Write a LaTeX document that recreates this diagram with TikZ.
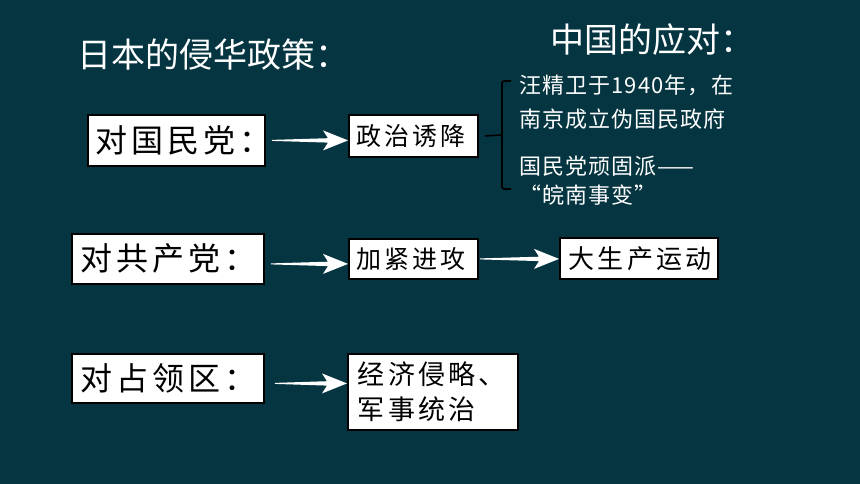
\documentclass[tikz,border=0pt]{standalone}
\usepackage{fontspec}
\setmainfont{Noto Sans CJK SC}
\newfontfamily\cjk{Noto Sans CJK SC}
\newfontfamily\cjkls[LetterSpace=12]{Noto Sans CJK SC}
\newfontfamily\cjkws[LetterSpace=5]{Noto Sans CJK SC}
\usetikzlibrary{calc}
\definecolor{bg}{RGB}{4,53,64}
\begin{document}
\begin{tikzpicture}[x=1pt,y=-1pt,
  box/.style={draw=black, line width=1.8pt, fill=white, text=black,
    anchor=north west, inner ysep=0pt, inner xsep=8pt, align=left},
  bigtxt/.style={font=\cjkls\fontsize{32}{36}\selectfont},
  midtxt/.style={font=\cjkls\fontsize{25}{35}\selectfont},
  wtxt/.style={text=white, anchor=north west, inner sep=0pt, align=left,
    font=\cjkws\fontsize{22}{34}\selectfont},
  ttl/.style={text=white, anchor=west, inner sep=0pt,
    font=\cjk\fontsize{34}{40}\selectfont},
  taper/.style={to path={let \p1=(\tikztostart), \p2=(\tikztotarget) in
    (\x1,\y1+0.5pt) -- (\x2-20pt,\y1+2.2pt) -- (\x2-25pt,\y1+10pt) -- (\x2,\y1)
    -- (\x2-25pt,\y1-10pt) -- (\x2-20pt,\y1-2.2pt) -- (\x1,\y1-0.5pt) -- cycle}},
  brace/.style={draw=black, line width=1.6pt}
]
\fill[bg] (0,0) rectangle (860,484);
\useasboundingbox (0,0) rectangle (860,484);

% titles
\node[ttl] (t1) at (77,55) {日本的侵华政策：};
\node[ttl] (t2) at (550,40) {中国的应对：};

% left boxes
\node[box, bigtxt, minimum width=177pt, minimum height=51pt, text width=161pt] (b1) at (87,114) {对国民党：};
\node[box, bigtxt, minimum width=192pt, minimum height=50pt, text width=174pt, inner xsep=9pt] (b2) at (71,233) {对共产党：};
\node[box, bigtxt, minimum width=192pt, minimum height=49pt, text width=174pt, inner xsep=9pt] (b3) at (71,353) {对占领区：};

% middle boxes
\node[box, midtxt, minimum width=129pt, minimum height=42pt, text width=113pt] (zz) at (348,114) {政治诱降};
\node[box, midtxt, minimum width=129pt, minimum height=40pt, text width=113pt] (jj) at (348,238) {加紧进攻};
\node[box, font=\cjkls\fontsize{26}{35}\selectfont, minimum width=158pt, minimum height=41pt, text width=140pt, inner xsep=9pt] (dd) at (559,237) {大生产运动};
\node[box, font=\cjkls\fontsize{27}{35}\selectfont, minimum width=170pt, minimum height=76pt, text width=150pt, inner xsep=10pt] (jl) at (347,353) {经济侵略、\\军事统治};

% right texts
\node[wtxt] (w1) at (519,75) {汪精卫于1940年，在\\南京成立伪国民政府};
\node[wtxt, font=\cjkws\fontsize{22}{29}\selectfont] (w2) at (519,156) {国民党顽固派——\\“皖南事变”};

% arrows
\fill[white] ($(b1.east)+(6,0)$) to[taper] (zz.west);
\fill[white] ($(b2.east)+(6,5)$) to[taper] (jj.west);
\fill[white] ($(b3.east)+(10,5)$) to[taper] (jl.west);
\fill[white] ($(jj.east)+(1,0)$) to[taper] (dd.west);

% brace
\coordinate (bm) at (502,135);
\coordinate (btop) at (511,81);
\coordinate (bbot) at (511,189);
\draw[brace] ($(zz.east)+(6,0)$) -- (bm);
\draw[brace, rounded corners=2pt] (btop) -- (502,81) -- (bm) -- (502,189) -- (bbot);
\end{tikzpicture}
\end{document}
